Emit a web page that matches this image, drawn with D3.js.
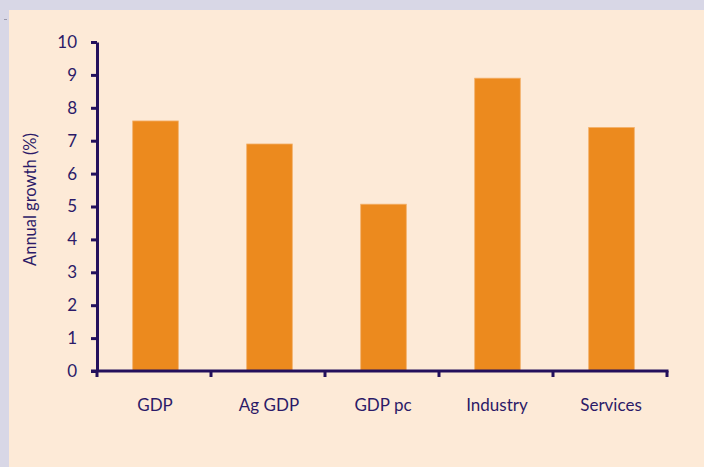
<!DOCTYPE html>
<html lang="en">
<head>
    <meta charset="UTF-8">
    <title>Annual growth</title>
    <script src="https://d3js.org/d3.v7.min.js"></script>
    <style>
        body { margin: 0; background: #d8d7e6; }
    </style>
</head>
<body>
    <svg width="704" height="467" id="chart"></svg>

    <script>
        var categories = ["GDP", "Ag GDP", "GDP pc", "Industry", "Services"];
        var growth = [7.6, 6.9, 5.07, 8.9, 7.4];
        var yTicks = [0, 1, 2, 3, 4, 5, 6, 7, 8, 9, 10];

        var svg = d3.select("#chart"),
            width = +svg.attr("width"),
            height = +svg.attr("height");

        var ink = "#24105c",
            textColor = "#2c1a68";

        // cream panel
        svg.append("rect")
            .attr("x", 9).attr("y", 10)
            .attr("width", width - 9).attr("height", height - 10)
            .attr("fill", "#fdead7");

        svg.append("line")
            .attr("x1", 4).attr("x2", 7).attr("y1", 19.5).attr("y2", 19.5)
            .attr("stroke", "#9a98aa").attr("stroke-width", 1);

        var margin = {left: 97, right: 37, top: 42, bottom: 96};

        var x = d3.scaleBand()
            .domain(categories)
            .range([margin.left, width - margin.right])
            .padding(0);

        var y = d3.scaleLinear()
            .domain([0, 10])
            .range([height - margin.bottom, margin.top]);

        var barW = x.bandwidth() * 0.4;

        // bars
        svg.append("g")
            .selectAll("rect")
            .data(growth)
            .join("rect")
            .attr("x", (d, i) => x(categories[i]) + x.bandwidth() / 2 - barW / 2 + 1.5)
            .attr("y", d => y(d))
            .attr("width", barW)
            .attr("height", d => y(0) - y(d))
            .attr("fill", "#ec8a1e")
            .attr("stroke", "#f3b068")
            .attr("stroke-width", 0.8);

        // y axis
        var yAxis = svg.append("g")
            .attr("transform", "translate(" + margin.left + ",0)")
            .call(d3.axisLeft(y).tickValues(yTicks).tickSize(6).tickPadding(14).tickSizeOuter(0));

        // x axis with ticks at band edges
        var xEdges = categories.map(c => x(c)).concat([x.range()[1]]);
        var xAxis = svg.append("g")
            .attr("transform", "translate(0," + y(0) + ")");
        xAxis.append("line")
            .attr("x1", margin.left - 6).attr("x2", x.range()[1] + 1.5)
            .attr("stroke", ink).attr("stroke-width", 3);
        xAxis.selectAll(".edge")
            .data(xEdges)
            .join("line")
            .attr("class", "edge")
            .attr("x1", d => d).attr("x2", d => d)
            .attr("y1", 0).attr("y2", 6)
            .attr("stroke", ink).attr("stroke-width", 3);
        xAxis.selectAll("text")
            .data(categories)
            .join("text")
            .attr("x", d => x(d) + x.bandwidth() / 2 + 1)
            .attr("y", 40)
            .attr("text-anchor", "middle")
            .attr("fill", textColor)
            .attr("font-family", "Lato, sans-serif")
            .attr("font-size", 17)
            .text(d => d);

        yAxis.select(".domain")
            .attr("stroke", ink).attr("stroke-width", 3);
        yAxis.selectAll(".tick line")
            .attr("stroke", ink).attr("stroke-width", 3);
        yAxis.selectAll(".tick text")
            .attr("fill", textColor)
            .attr("font-family", "Lato, sans-serif")
            .attr("font-size", 17);

        // axis title
        svg.append("text")
            .attr("transform", "translate(36," + (margin.top + (y(0) - margin.top) / 2 - 7) + ") rotate(-90)")
            .attr("text-anchor", "middle")
            .attr("fill", textColor)
            .attr("font-family", "Lato, sans-serif")
            .attr("font-size", 16.5)
            .text("Annual growth (%)");
    </script>
</body>
</html>
